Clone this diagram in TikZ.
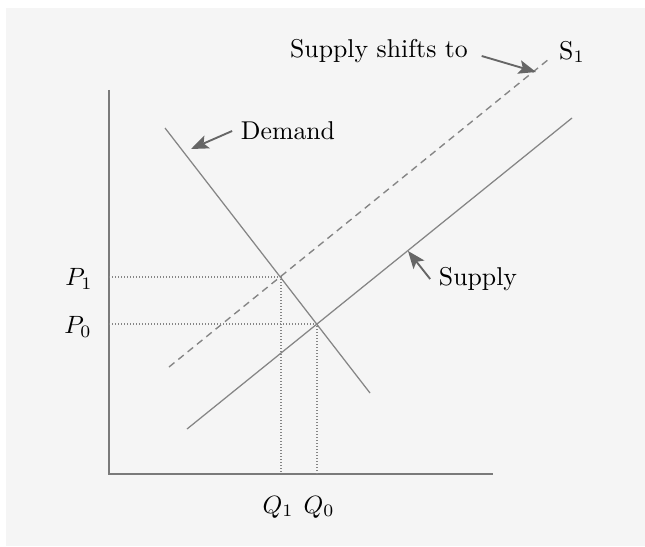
\documentclass[tikz,border=0pt]{standalone}
\usetikzlibrary{arrows.meta}

\definecolor{bggray}{HTML}{F5F5F5}
\definecolor{linegray}{HTML}{858585}
\definecolor{axisgray}{HTML}{7A7A7A}
\definecolor{tipgray}{HTML}{666666}

\begin{document}
\begin{tikzpicture}[
  x=0.4pt,y=-0.4pt,
  font=\fontsize{10.3}{12}\selectfont,
  axis/.style={axisgray,line width=0.8pt},
  curve/.style={linegray,line width=0.5pt},
  shifted/.style={curve,line width=0.55pt,dash pattern=on 2.8pt off 2pt},
  guide/.style={linegray,line width=0.5pt,dash pattern=on 0.5pt off 0.7pt},
  pointer/.style={tipgray,line width=0.75pt,-{Stealth[length=7pt,width=5.5pt,inset=1.5pt]}}
]
  \useasboundingbox (0,0) rectangle (645,546);
  \fill[bggray] (6,8) rectangle (645,546);

  % axes
  \coordinate (origin) at (109,474);
  \coordinate (ytop) at (109,90);
  \coordinate (xend) at (493,474);
  \draw[axis] (ytop) -- (origin) -- (xend);

  % demand, supply and shifted supply
  \coordinate (dstart) at (165,128);
  \coordinate (dend) at (370,393);
  \coordinate (sstart) at (187,429);
  \coordinate (send) at (572,118);
  \coordinate (tstart) at (169,367);
  \coordinate (tend) at (549,59);
  \draw[curve] (dstart) -- (dend);
  \draw[curve] (sstart) -- (send);
  \draw[shifted] (tstart) -- (tend);

  % equilibria
  \coordinate (eq0) at (317,324);
  \coordinate (eq1) at (281,277);
  \draw[guide] (eq1 -| origin) -- (eq1) -- (eq1 |- origin);
  \draw[guide] (eq0 -| origin) -- (eq0) -- (eq0 |- origin);

  % labels
  \node (p1) at (79,279) {$P_1$};
  \node (p0) at (78,327) {$P_0$};
  \node (q1) at (278,507) {$Q_1$};
  \node (q0) at (319,507) {$Q_0$};
  \node (demandlab) at (288,131) {Demand};
  \node (supplylab) at (478,279) {Supply};
  \node (shiftlab) at (379,51) {Supply shifts to};
  \node (s1lab) at (572,52) {S$_1$};

  % pointers
  \coordinate (dtip) at (191,149);
  \coordinate (stip) at (408,251);
  \coordinate (ttip) at (536,72);
  \draw[pointer] (demandlab.west) -- (dtip);
  \draw[pointer] (supplylab.west) -- (stip);
  \draw[pointer] ([shift={(5,5)}]shiftlab.east) -- (ttip);
\end{tikzpicture}
\end{document}
